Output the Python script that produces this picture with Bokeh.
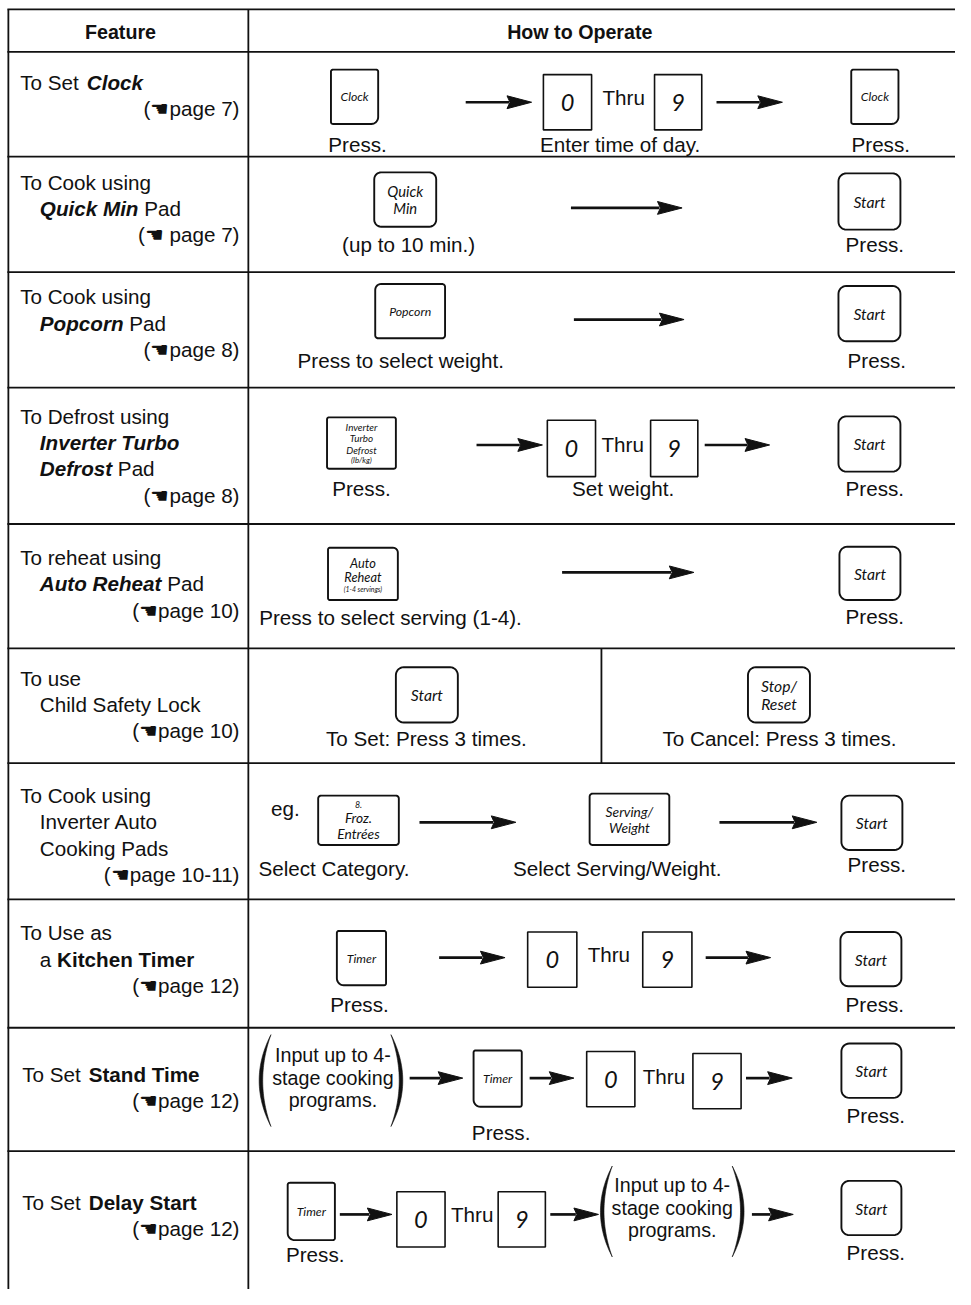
import numpy as np
from bokeh.plotting import figure
from bokeh.models import Range1d
from bokeh.core.properties import value
from bokeh.embed import file_html
from bokeh.resources import INLINE

# ---------------- data (texts of the table) ----------------
header_labels = ["Feature", "How to Operate"]
feature_text = [
    [[("To Set ", "normal"), ("Clock", "bold italic")]],
    [[("To Cook using", "normal")], [("Quick Min", "bold italic"), (" Pad", "normal")]],
    [[("To Cook using", "normal")], [("Popcorn", "bold italic"), (" Pad", "normal")]],
    [[("To Defrost using", "normal")], [("Inverter Turbo", "bold italic")],
     [("Defrost", "bold italic"), (" Pad", "normal")]],
    [[("To reheat using", "normal")], [("Auto Reheat", "bold italic"), (" Pad", "normal")]],
    [[("To use", "normal")], [("Child Safety Lock", "normal")]],
    [[("To Cook using", "normal")], [("Inverter Auto", "normal")], [("Cooking Pads", "normal")]],
    [[("To Use as", "normal")], [("a ", "normal"), ("Kitchen Timer", "bold")]],
    [[("To Set ", "normal"), ("Stand Time", "bold")]],
    [[("To Set ", "normal"), ("Delay Start", "bold")]],
]
page_refs = ["page 7", " page 7", "page 8", "page 8", "page 10", "page 10",
             "page 10-11", "page 12", "page 12", "page 12"]
HAND = "\u261a"

key_clock = ["Clock"]
key_start = ["Start"]
key_quick_min = ["Quick", "Min"]
key_popcorn = ["Popcorn"]
key_defrost = ["Inverter", "Turbo", "Defrost", "(lb/kg)"]
key_reheat = ["Auto", "Reheat", "(1-4 servings)"]
key_stop = ["Stop/", "Reset"]
key_froz = ["8.", "Froz.", "Entrées"]
key_serving = ["Serving/", "Weight"]
key_timer = ["Timer"]
digits = ["0", "9"]
thru = "Thru"
program_note = ["Input up to 4-", "stage cooking", "programs."]

cap_press = "Press."
cap_enter = "Enter time of day."
cap_upto = "(up to 10 min.)"
cap_weight = "Press to select weight."
cap_setw = "Set weight."
cap_serving = "Press to select serving (1-4)."
cap_set3 = "To Set: Press 3 times."
cap_cancel3 = "To Cancel: Press 3 times."
cap_eg = "eg."
cap_category = "Select Category."
cap_servw = "Select Serving/Weight."

# ---------------- styles / layout ----------------
SANS = "Liberation Sans"
KEYF = "Lato"
INK = "#111111"
W, H = 955, 1289
FW, FH = 971, 1305          # drawing frame (reference pixels)
FS = W / FW                 # font scale so text matches the frame scale
TS = 21                     # main text size (frame px)

p = figure(width=W, height=H, x_range=Range1d(0, FW), y_range=Range1d(FH, 0),
           output_backend="svg", toolbar_location=None, x_axis_type=None, y_axis_type=None,
           min_border=0, background_fill_color="white", border_fill_color="white")
p.grid.visible = False
p.outline_line_color = None

# Arial / Liberation Sans metrics (per 1000 em) for width estimates
_U = "ABCDEFGHIJKLMNOPQRSTUVWXYZ"
_L = "abcdefghijklmnopqrstuvwxyz"
REG = dict(zip(_U, [667,667,722,722,667,611,778,722,278,500,667,556,833,722,778,667,778,722,667,611,722,667,944,667,667,611]))
REG.update(zip(_L, [556,556,500,556,556,278,556,556,222,222,500,222,833,556,556,556,556,333,500,278,556,500,722,500,500,500]))
BLD = dict(zip(_U, [722,722,722,722,667,611,778,722,278,556,722,611,833,722,778,667,778,722,667,611,722,667,944,667,667,611]))
BLD.update(zip(_L, [556,611,556,611,556,333,611,611,278,278,556,278,889,611,611,611,611,389,556,333,611,556,778,556,556,500]))
for d in (REG, BLD):
    d.update({" ": 278, ".": 278, "-": 333, "(": 333, ")": 333, "/": 278})


def twidth(s, style, size):
    tab = BLD if "bold" in style else REG
    return sum(tab.get(c, 556) for c in s) * size / 1000.0


def txt(x, y, s, size=TS, style="normal", align="left", font=SANS):
    p.text(x=[x], y=[y], text=[s], text_font=value(font),
           text_font_size=f"{size * FS:.2f}px", text_font_style=style, text_align=align,
           text_baseline="middle", text_color=INK)


def rrect(x0, y0, x1, y1, radii):
    tl, tr, br, bl = radii
    xs, ys = [], []
    for (cx, cy, r, a0) in [(x0 + tl, y0 + tl, tl, 180), (x1 - tr, y0 + tr, tr, 270),
                            (x1 - br, y1 - br, br, 0), (x0 + bl, y1 - bl, bl, 90)]:
        a = np.radians(np.linspace(a0, a0 + 90, 8))
        xs.extend(cx + r * np.cos(a))
        ys.extend(cy + r * np.sin(a))
    return xs, ys


def key(x0, y0, x1, y1, radii, lines, sizes):
    xs, ys = rrect(x0, y0, x1, y1, radii)
    p.patch(xs, ys, fill_color="white", line_color=INK, line_width=1.9)
    hs = [s * 1.15 for s in sizes]
    cur = (y0 + y1) / 2 - sum(hs) / 2
    for ln, s, h in zip(lines, sizes, hs):
        txt((x0 + x1) / 2, cur + h / 2, ln, s, "italic", "center", KEYF)
        cur += h


def digit(x0, y0, x1, y1, d):
    p.quad(left=[x0], right=[x1], top=[y0], bottom=[y1], fill_color="white",
           line_color=INK, line_width=1.6)
    txt((x0 + x1) / 2, (y0 + y1) / 2, d, 24, "italic", "center", KEYF)


def arrow(x0, x1, y):
    hl, hw = 25, 6.5
    p.segment(x0=[x0], y0=[y], x1=[x1 - hl + 2], y1=[y], line_color=INK, line_width=2.7)
    p.patch([x1, x1 - hl, x1 - hl + 3, x1 - hl], [y, y - hw, y, y + hw],
            fill_color=INK, line_color=INK, line_width=1)


def paren(xa, xb, y0, y1, side, thick=3.6):
    t = np.linspace(0, 1, 40)
    ym = (y0 + y1) / 2
    if side == "L":
        end, apex, apex_in = xb, xa, xa + thick
    else:
        end, apex, apex_in = xa, xb, xb - thick
    c_out, c_in = 2 * apex - end, 2 * apex_in - end
    xo = (1 - t) ** 2 * end + 2 * t * (1 - t) * c_out + t ** 2 * end
    xi = (1 - t) ** 2 * end + 2 * t * (1 - t) * c_in + t ** 2 * end
    yy = (1 - t) ** 2 * y0 + 2 * t * (1 - t) * ym + t ** 2 * y1
    p.patch(list(xo) + list(xi[::-1]), list(yy) + list(yy[::-1]),
            fill_color=INK, line_color=INK, line_width=0.6)


def note(cx, ys):
    for ln, y in zip(program_note, ys):
        txt(cx, y, ln, 20, align="center")


# ---------------- table grid ----------------
row_lines = [9, 52, 158, 275, 392, 530, 656, 772, 910, 1040, 1165]
p.segment(x0=[7] * len(row_lines), x1=[975] * len(row_lines), y0=row_lines, y1=row_lines,
          line_color=INK, line_width=1.8)
p.segment(x0=[8, 252, 611], x1=[8, 252, 611], y0=[9, 9, 656], y1=[1310, 1310, 772],
          line_color=INK, line_width=1.8)

txt(122, 32, header_labels[0], 20, "bold", "center")
txt(589, 32, header_labels[1], 20, "bold", "center")

# ---------------- feature column ----------------
first_y = [83, 184, 300, 421, 564, 686, 805, 944, 1087, 1217]
first_x = [20, 20, 20, 20, 20, 20, 20, 20, 22, 22]
GAP = 26.6
for r, lines in enumerate(feature_text):
    y = first_y[r]
    for i, segs in enumerate(lines):
        x = first_x[r] if i == 0 else 40
        for s, st in segs:
            core = s.strip(" ")
            lead = len(s) - len(s.lstrip(" "))
            trail = len(s) - len(s.rstrip(" "))
            x += twidth(" " * lead, st, TS)
            txt(x, y, core, TS, st)
            x += twidth(core, st, TS) + twidth(" " * trail, st, TS)
        y += GAP
    txt(243, y, "(" + HAND + page_refs[r] + ")", TS, align="right")

# ---------------- how to operate column ----------------
R_CLK = (2, 2, 7, 2)
R_ST = (8, 8, 8, 8)
R_TMR = (2, 2, 2, 7)

# row 1: clock
key(336, 70, 384, 125, R_CLK, key_clock, [12.5])
arrow(473, 540, 103)
digit(552, 75, 601, 131, digits[0])
txt(612, 98, thru)
digit(665, 75, 713, 131, digits[1])
arrow(728, 795, 103)
key(865, 70, 913, 125, R_CLK, key_clock, [12.5])
txt(363, 146, cap_press, align="center")
txt(630, 146, cap_enter, align="center")
txt(895, 146, cap_press, align="center")

# row 2: quick min
key(380, 174, 443, 229, (7, 7, 7, 7), key_quick_min, [15, 15])
txt(415, 247, cap_upto, align="center")
arrow(580, 693, 210)
key(852, 175, 915, 232, R_ST, key_start, [16])
txt(889, 247, cap_press, align="center")

# row 3: popcorn
key(381, 287, 452, 342, (6, 3, 3, 3), key_popcorn, [12.5])
txt(407, 364, cap_weight, align="center")
arrow(583, 695, 323)
key(852, 289, 915, 345, R_ST, key_start, [16])
txt(891, 364, cap_press, align="center")

# row 4: defrost
key(332, 422, 402, 474, (2, 2, 2, 2), key_defrost, [10, 10, 10, 8])
txt(367, 494, cap_press, align="center")
arrow(484, 551, 450)
digit(556, 425, 605, 482, digits[0])
txt(611, 450, thru)
digit(661, 425, 709, 482, digits[1])
arrow(716, 782, 450)
key(852, 421, 915, 477, R_ST, key_start, [16])
txt(633, 494, cap_setw, align="center")
txt(889, 494, cap_press, align="center")

# row 5: auto reheat
key(333, 554, 404, 607, (2, 5, 2, 2), key_reheat, [13, 13, 7])
txt(263, 625, cap_serving)
arrow(571, 705, 579)
key(853, 553, 915, 607, R_ST, key_start, [16])
txt(889, 624, cap_press, align="center")

# row 6: child lock
key(402, 675, 465, 731, R_ST, key_start, [16])
txt(433, 747, cap_set3, align="center")
key(760, 675, 823, 731, R_ST, key_stop, [16, 16])
txt(792, 747, cap_cancel3, align="center")

# row 7: auto cooking
txt(275, 818, cap_eg)
key(323, 805, 405, 855, (3, 3, 3, 3), key_froz, [9, 14, 14])
arrow(426, 524, 832)
key(599, 803, 680, 855, (3, 3, 3, 3), key_serving, [14, 14])
arrow(731, 830, 832)
key(855, 805, 917, 860, R_ST, key_start, [16])
txt(339, 879, cap_category, align="center")
txt(627, 879, cap_servw, align="center")
txt(891, 875, cap_press, align="center")

# row 8: kitchen timer
key(342, 942, 392, 997, R_TMR, key_timer, [12.5])
txt(365, 1016, cap_press, align="center")
arrow(446, 513, 969)
digit(536, 943, 586, 999, digits[0])
txt(597, 966, thru)
digit(653, 943, 703, 999, digits[1])
arrow(717, 783, 969)
key(854, 943, 916, 998, R_ST, key_start, [16])
txt(889, 1016, cap_press, align="center")

# row 9: stand time
paren(263, 275, 1047, 1140, "L")
note(338, [1068, 1091, 1113])
paren(397, 409, 1047, 1140, "R")
arrow(416, 470, 1091)
key(481, 1063, 530, 1120, R_TMR, key_timer, [12.5])
txt(509, 1146, cap_press, align="center")
arrow(538, 583, 1091)
digit(596, 1064, 645, 1120, digits[0])
txt(653, 1089, thru)
digit(704, 1066, 753, 1122, digits[1])
arrow(758, 805, 1091)
key(855, 1056, 916, 1111, R_ST, key_start, [16])
txt(890, 1129, cap_press, align="center")

# row 10: delay start
key(292, 1197, 340, 1255, R_TMR, key_timer, [12.5])
txt(320, 1270, cap_press, align="center")
arrow(345, 398, 1229)
digit(403, 1206, 452, 1262, digits[0])
txt(458, 1229, thru)
digit(506, 1206, 554, 1262, digits[1])
arrow(559, 608, 1229)
paren(610, 622, 1180, 1272, "L")
note(683, [1199, 1222, 1245])
paren(744, 756, 1180, 1272, "R")
arrow(764, 806, 1229)
key(855, 1195, 916, 1250, R_ST, key_start, [16])
txt(890, 1268, cap_press, align="center")

open("out.html", "w").write(file_html(p, INLINE))
